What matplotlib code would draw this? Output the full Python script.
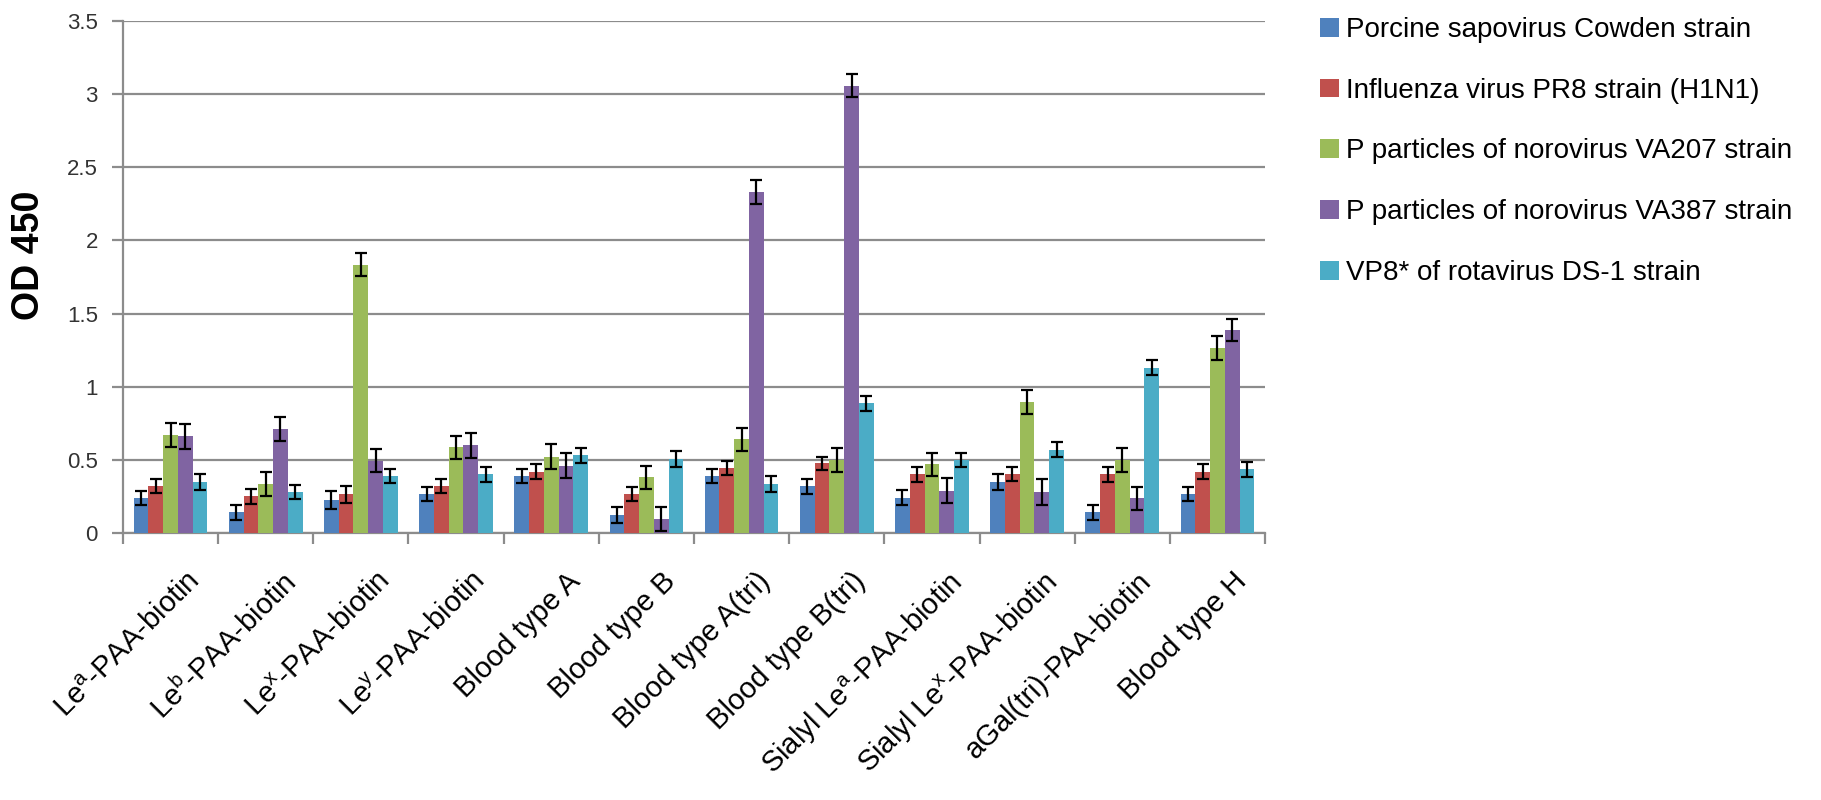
import numpy as np
import matplotlib
matplotlib.use('Agg')
import matplotlib.pyplot as plt
import matplotlib.transforms as mtransforms

plt.rcParams['font.family'] = ['Liberation Sans', 'DejaVu Sans']
plt.rcParams['mathtext.default'] = 'regular'

# data
categories = ['Le$^{a}$-PAA-biotin', 'Le$^{b}$-PAA-biotin', 'Le$^{x}$-PAA-biotin',
              'Le$^{y}$-PAA-biotin', 'Blood type A', 'Blood type B',
              'Blood type A(tri)', 'Blood type B(tri)', 'Sialyl Le$^{a}$-PAA-biotin',
              'Sialyl Le$^{x}$-PAA-biotin', 'aGal(tri)-PAA-biotin', 'Blood type H']

series_names = ['Porcine sapovirus Cowden strain',
                'Influenza virus PR8 strain (H1N1)',
                'P particles of norovirus VA207 strain',
                'P particles of norovirus VA387 strain',
                'VP8* of rotavirus DS-1 strain']

sapovirus = [0.24, 0.14, 0.225, 0.266, 0.39, 0.124, 0.39, 0.32, 0.24, 0.35, 0.14, 0.266]
influenza = [0.32, 0.25, 0.264, 0.32, 0.42, 0.266, 0.447, 0.477, 0.40, 0.40, 0.40, 0.42]
va207 = [0.67, 0.335, 1.835, 0.585, 0.52, 0.38, 0.64, 0.50, 0.47, 0.895, 0.50, 1.266]
va387 = [0.66, 0.71, 0.495, 0.60, 0.46, 0.096, 2.334, 3.057, 0.29, 0.28, 0.236, 1.39]
ds1 = [0.35, 0.28, 0.39, 0.40, 0.53, 0.505, 0.335, 0.885, 0.50, 0.57, 1.13, 0.435]

sapovirus_err = [0.05, 0.05, 0.06, 0.05, 0.048, 0.055, 0.05, 0.052, 0.052, 0.054, 0.052, 0.05]
influenza_err = [0.05, 0.05, 0.057, 0.05, 0.054, 0.05, 0.048, 0.044, 0.05, 0.048, 0.05, 0.05]
va207_err = [0.083, 0.084, 0.08, 0.08, 0.085, 0.078, 0.078, 0.08, 0.08, 0.08, 0.08, 0.083]
va387_err = [0.086, 0.084, 0.08, 0.086, 0.085, 0.084, 0.082, 0.08, 0.086, 0.088, 0.08, 0.076]
ds1_err = [0.054, 0.05, 0.05, 0.05, 0.052, 0.052, 0.052, 0.05, 0.05, 0.052, 0.05, 0.05]

yticks = [0, 0.5, 1, 1.5, 2, 2.5, 3, 3.5]
ytick_labels = ['0', '0.5', '1', '1.5', '2', '2.5', '3', '3.5']

colors = ['#4F81BD', '#C0504D', '#9BBB59', '#8064A2', '#4BACC6']
values = [sapovirus, influenza, va207, va387, ds1]
errors = [sapovirus_err, influenza_err, va207_err, va387_err, ds1_err]

fig = plt.figure(figsize=(18.21, 8), dpi=100)
ax = fig.add_axes([0.0675, 0.3338, 0.6272, 0.64])

x = np.arange(len(categories))
w = 0.155
grid_col = '#8C8C8C'

for i in range(5):
    ax.bar(x + (i - 2) * w, values[i], w, color=colors[i], label=series_names[i],
           yerr=errors[i], capsize=4,
           error_kw=dict(elinewidth=1.6, capthick=1.6, ecolor='black'),
           zorder=3)

ax.set_xlim(-0.5, len(categories) - 0.5)
ax.set_ylim(0, 3.5)
ax.set_yticks(yticks)
ax.set_yticklabels(ytick_labels, fontsize=16, color='#333333')
ax.yaxis.grid(True, color=grid_col, linewidth=1.6, zorder=0)
ax.set_axisbelow(True)

for s in ['top', 'right']:
    ax.spines[s].set_visible(False)
for s in ['left', 'bottom']:
    ax.spines[s].set_color(grid_col)
    ax.spines[s].set_linewidth(1.6)

ax.tick_params(axis='y', length=8, width=1.6, color=grid_col, pad=10)

# major ticks at category boundaries, labels on minor ticks at centres
ax.set_xticks(np.arange(-0.5, len(categories), 1))
ax.set_xticklabels([])
ax.tick_params(axis='x', which='major', length=8, width=1.6, color=grid_col)
ax.set_xticks(x, minor=True)
ax.set_xticklabels(categories, minor=True, rotation=45, ha='right',
                   rotation_mode='anchor', fontsize=21, color='black')
ax.tick_params(axis='x', which='minor', length=0, pad=0)
offset = mtransforms.ScaledTranslation(15 / 100, -34 / 100, fig.dpi_scale_trans)
for lab in ax.get_xticklabels(minor=True):
    lab.set_transform(lab.get_transform() + offset)

fig.text(29 / 1821, 1 - 255 / 800, 'OD 450', rotation=90, fontsize=27,
         fontweight='bold', ha='center', va='center')

ax.legend(loc='upper left', bbox_to_anchor=(1320 / 1821, 1 - 17 / 800),
          bbox_transform=fig.transFigure, frameon=False, fontsize=20,
          handlelength=0.67, handleheight=0.67, handletextpad=0.25,
          labelspacing=1.25, borderpad=0, borderaxespad=0)

fig.savefig('out.png', dpi=100)
